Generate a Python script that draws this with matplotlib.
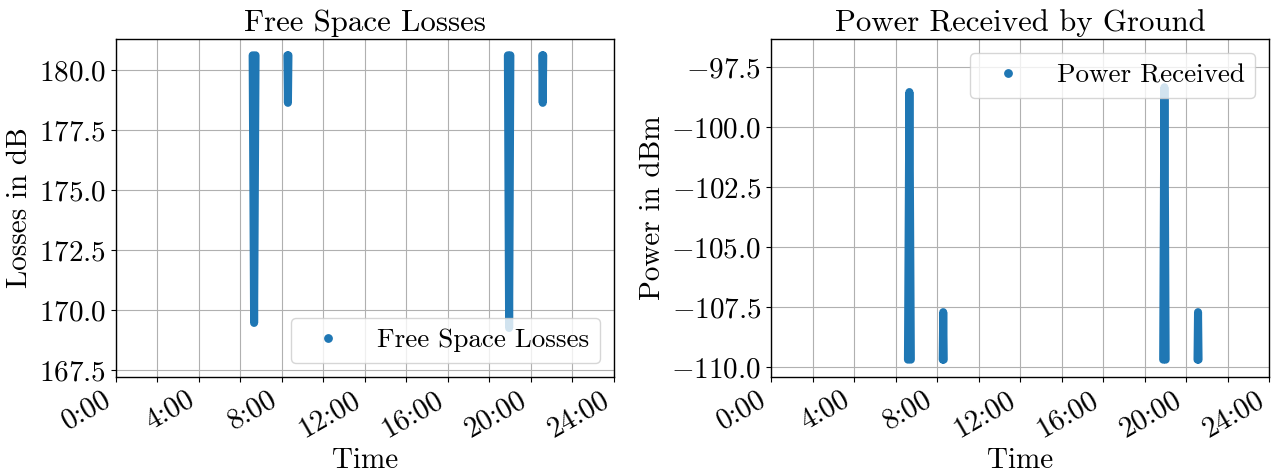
import matplotlib
matplotlib.use("Agg")
import matplotlib.pyplot as plt
from matplotlib.lines import Line2D

plt.rcParams['font.family'] = ['cmr10', 'DejaVu Serif']
plt.rcParams['mathtext.fontset'] = 'cm'
plt.rcParams['axes.formatter.use_mathtext'] = True
plt.rcParams['font.size'] = 21
plt.rcParams['axes.unicode_minus'] = True

# Pass times (hours of day): start, closest approach, end
pass_start = [6.60, 8.275, 18.90, 20.555]
pass_peak = [6.67, 8.30, 18.96, 20.58]
pass_end = [6.74, 8.325, 19.02, 20.605]

# Free space losses (dB) at pass edges and at closest approach
fsl_edge = [180.61, 180.61, 180.61, 180.61]
fsl_peak = [169.46, 178.63, 169.25, 178.63]

# Power received (dBm) at pass edges and at closest approach
pwr_edge = [-109.68, -109.68, -109.68, -109.68]
pwr_peak = [-98.53, -107.70, -98.33, -107.70]

x_ticks = [0, 2, 4, 6, 8, 10, 12, 14, 16, 18, 20, 22, 24]
x_tick_labels = ['0:00', '', '4:00', '', '8:00', '', '12:00', '', '16:00', '', '20:00', '', '24:00']
fsl_ticks = [167.5, 170.0, 172.5, 175.0, 177.5, 180.0]
pwr_ticks = [-110.0, -107.5, -105.0, -102.5, -100.0, -97.5]

W, H = 1285, 474
fig = plt.figure(figsize=(W / 100, H / 100), dpi=100)
ax1 = fig.add_axes([115.7 / W, 1 - 376.7 / H, 498 / W, (376.7 - 39) / H])
ax2 = fig.add_axes([771.0 / W, 1 - 376.7 / H, 498 / W, (376.7 - 39) / H])

color = '#1f77b4'
lw = 5.8

for ax, edge, peak in ((ax1, fsl_edge, fsl_peak), (ax2, pwr_edge, pwr_peak)):
    for s, p, e, ev, pv in zip(pass_start, pass_peak, pass_end, edge, peak):
        ax.plot([s, p, e], [ev, pv, ev], color=color, lw=lw,
                solid_capstyle='round', solid_joinstyle='round')
    ax.set_xlim(0, 24)
    ax.set_xticks(x_ticks)
    ax.set_xticklabels(x_tick_labels, rotation=30, ha='right')
    ax.tick_params(labelsize=21)
    ax.grid(True, color='#b0b0b0', lw=0.8)
    ax.set_axisbelow(True)
    ax.set_xlabel('Time', fontsize=21)
    for sp in ax.spines.values():
        sp.set_linewidth(1.0)

ax1.set_ylim(167.22, 181.29)
ax1.set_yticks(fsl_ticks)
ax1.set_ylabel('Losses in dB', fontsize=21)
ax1.set_title('Free Space Losses', fontsize=22.2)

ax2.set_ylim(-110.39, -96.32)
ax2.set_yticks(pwr_ticks)
ax2.set_ylabel('Power in dBm', fontsize=21)
ax2.set_title('Power Received by Ground', fontsize=22.2)

h1 = Line2D([], [], color=color, marker='o', ls='None', ms=5.3)
ax1.legend([h1], ['Free Space Losses'], loc='lower right', fontsize=19.5)
h2 = Line2D([], [], color=color, marker='o', ls='None', ms=5.3)
ax2.legend([h2], ['Power Received'], loc='upper right', fontsize=19.5)

fig.savefig('out.png', dpi=100)
